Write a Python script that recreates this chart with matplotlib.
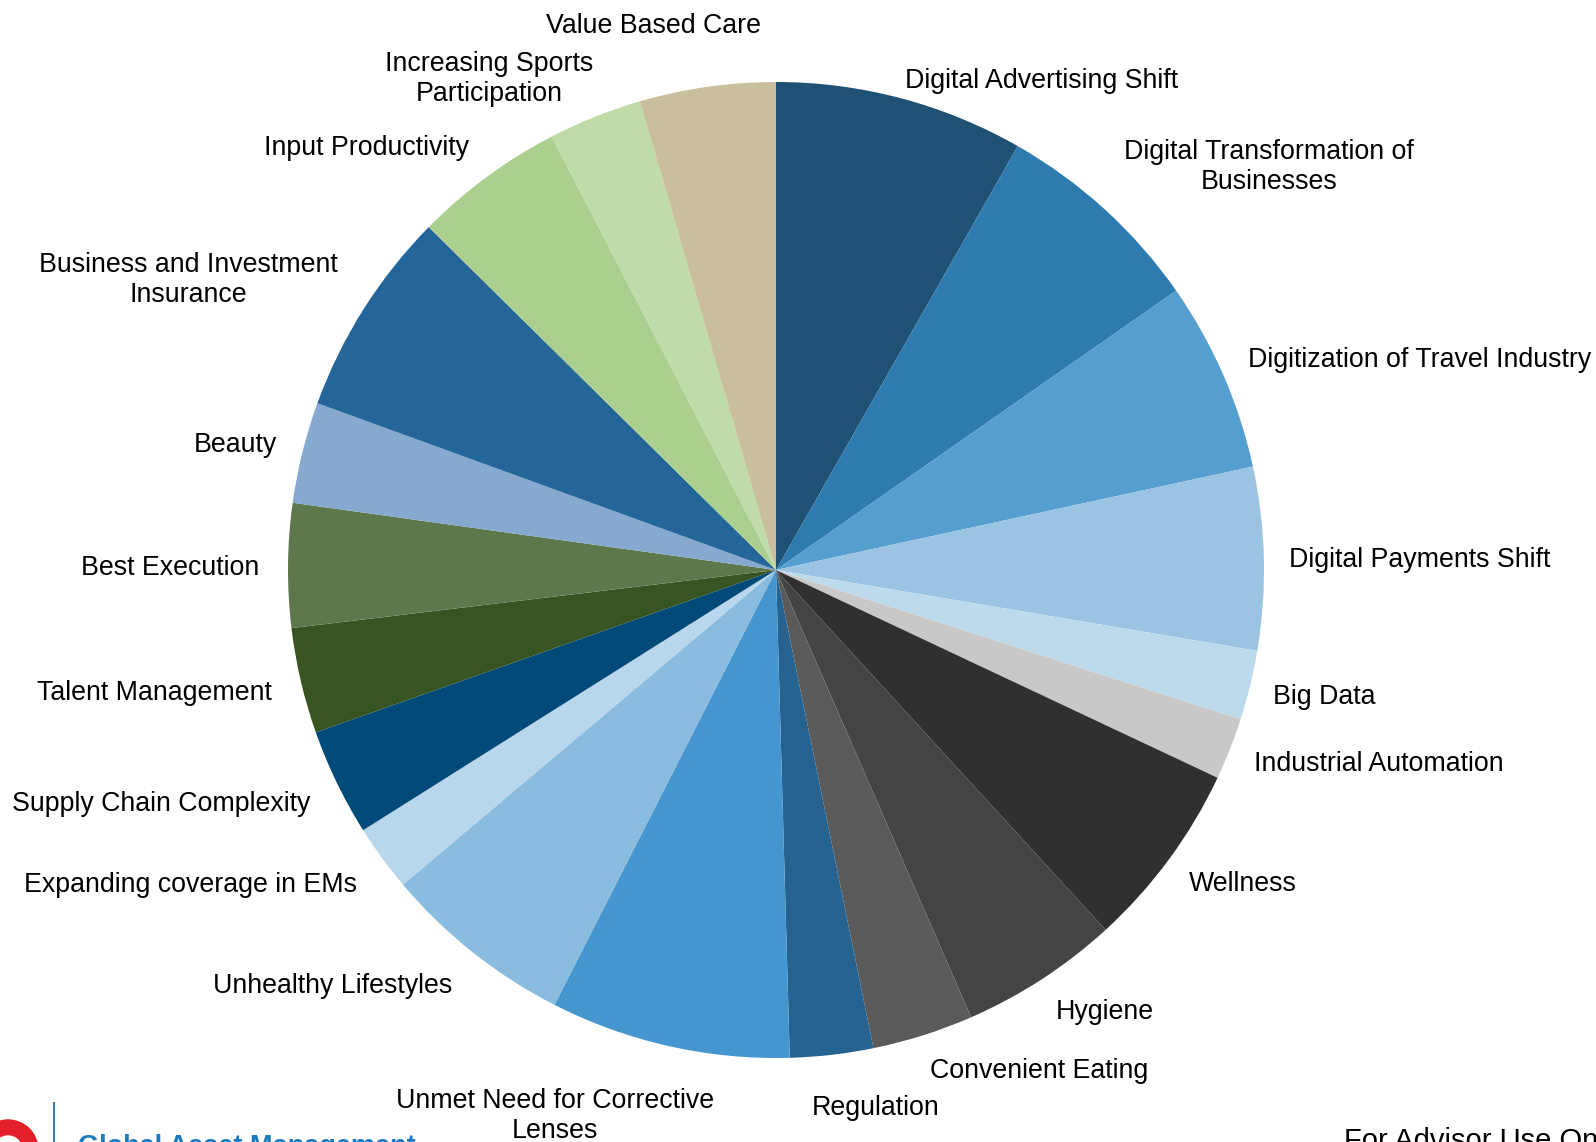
"""
Thematic exposure breakdown as a single pie with outside labels.
"""

import matplotlib
matplotlib.use('Agg')
from matplotlib import pyplot
from matplotlib.patches import Circle, Wedge

WIDTH_PX = 1596
HEIGHT_PX = 1142
DPI = 100

themes = [
    'Digital Advertising Shift',
    'Digital Transformation of\nBusinesses',
    'Digitization of Travel Industry',
    'Digital Payments Shift',
    'Big Data',
    'Industrial Automation',
    'Wellness',
    'Hygiene',
    'Convenient Eating',
    'Regulation',
    'Unmet Need for Corrective\nLenses',
    'Unhealthy Lifestyles',
    'Expanding coverage in EMs',
    'Supply Chain Complexity',
    'Talent Management',
    'Best Execution',
    'Beauty',
    'Business and Investment\nInsurance',
    'Input Productivity',
    'Increasing Sports\nParticipation',
    'Value Based Care',
]

weights = [8.25, 7.05, 6.3, 6.05, 2.3, 2.05, 6.2, 5.25, 3.35, 2.75, 7.95,
           6.35, 2.2, 3.55, 3.5, 4.1, 3.35, 6.85, 5.0, 3.1, 4.5]

colors = [
    '#1F5174', '#2E7BB0', '#559ED0', '#9BC4E3', '#BDDAED', '#C8C8C8',
    '#303030', '#444444', '#5A5A5A', '#26628F', '#4596CE', '#8ABCDF',
    '#B8D6EC', '#004A7A', '#385423', '#5E774C', '#85A9CF', '#246699',
    '#ABCF8E', '#BFDCA8', '#C9BF9C',
]

# label anchor points, pixels from the top-left corner
label_xy = [
    (1042, 81), (1269, 167), (1420, 360), (1420, 560), (1324, 697),
    (1379, 764), (1243, 884), (1105, 1012), (1039, 1071), (876, 1108),
    (555, 1116), (333, 986), (190, 885), (161, 804), (154, 693),
    (170, 568), (235, 445), (188, 280), (366, 148), (489, 79), (654, 26),
]

PIE_CENTER = (776, HEIGHT_PX - 570)
PIE_RADIUS = 488
FONT = 'Liberation Sans'
LABEL_SIZE = 19.3


def main() -> None:
    pyplot.rcParams['font.family'] = [FONT, 'DejaVu Sans']
    fig = pyplot.figure(figsize=(WIDTH_PX / DPI, HEIGHT_PX / DPI), dpi=DPI)
    ax = fig.add_axes([0, 0, 1, 1])

    ax.pie(weights, colors=colors, startangle=90, counterclock=False,
           center=PIE_CENTER, radius=PIE_RADIUS, frame=True,
           wedgeprops={'linewidth': 0})
    ax.set_xlim(0, WIDTH_PX)
    ax.set_ylim(0, HEIGHT_PX)
    ax.set_axis_off()

    for name, (x, y) in zip(themes, label_xy):
        ax.text(x, HEIGHT_PX - y, name, fontsize=LABEL_SIZE, ha='center',
                va='center', multialignment='center', linespacing=1.2,
                color='#000000')

    # footer: logo mark, divider and captions running off the bottom edge
    ax.add_patch(Circle((8, -8), 30, color='#E3202A', clip_on=False))
    ax.add_patch(Wedge((8, -8), 14, 20, 160, color='white'))
    ax.plot([54, 54], [0, HEIGHT_PX - 1103], color='#3E7DB5', lw=1.5)
    ax.text(78, HEIGHT_PX - 1134, 'Global Asset Management', fontsize=19.5,
            fontweight='bold', color='#1B7BC0', ha='left', va='top')
    ax.text(1344, HEIGHT_PX - 1127, 'For Advisor Use Only', fontsize=21,
            color='#000000', ha='left', va='top')

    fig.savefig('out.png', dpi=DPI)


if __name__ == '__main__':
    main()
